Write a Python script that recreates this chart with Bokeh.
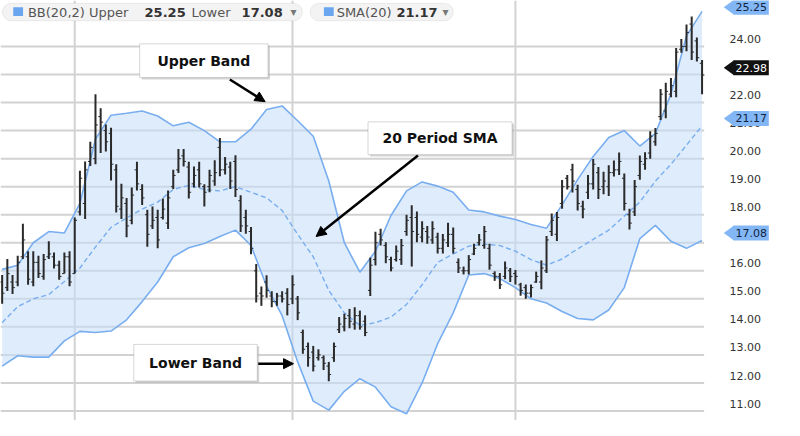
from bokeh.plotting import figure
from bokeh.models import (Range1d, Label, BoxAnnotation, Arrow, NormalHead)
from bokeh.core.properties import value
from bokeh.embed import file_html
from bokeh.resources import INLINE

# ---------------- data ----------------
bar_high = [15.85,16.42,15.85,16.54,17.68,16.70,16.70,16.54,16.60,17.05,
            16.65,16.36,16.65,16.70,17.90,19.57,19.90,20.60,22.30,21.80,
            21.22,21.10,19.80,19.10,18.60,18.97,19.89,19.09,18.18,18.29,
            18.18,18.58,18.86,19.60,20.34,20.34,19.89,19.72,19.89,19.09,
            19.60,19.94,20.74,20.06,19.89,20.12,18.69,18.18,17.56,16.24,
            15.44,15.84,15.27,15.21,15.27,15.38,15.84,15.10,13.90,13.44,
            13.32,13.20,12.98,12.75,13.44,14.35,14.47,14.64,14.70,14.58,
            14.41,16.47,17.39,17.50,17.02,16.50,16.90,17.13,18.00,18.34,
            18.11,17.77,17.60,17.77,17.36,17.31,17.71,17.54,16.44,16.15,
            16.56,16.96,17.31,17.60,16.96,15.98,15.92,16.33,16.10,16.03,
            15.57,15.51,15.51,15.97,16.37,17.24,18.04,18.10,19.24,19.42,
            19.82,19.07,18.50,19.42,19.99,19.70,19.53,19.76,19.93,20.22,
            19.47,18.21,19.24,20.11,20.23,20.98,21.09,22.48,22.71,22.88,
            23.95,24.27,24.78,25.07,24.32,23.52]
bar_low = [14.82,15.28,15.17,15.45,16.42,15.50,15.45,15.74,15.68,16.42,
           16.08,15.68,15.90,15.45,15.90,17.97,17.85,19.74,19.80,20.20,
           20.25,19.22,18.08,17.85,17.20,17.66,18.86,18.35,16.86,17.49,
           16.80,17.83,17.49,18.92,19.49,19.72,18.58,18.97,18.97,18.29,
           18.80,19.03,19.37,19.43,18.92,18.63,17.38,17.32,16.59,14.87,
           14.75,15.04,14.70,14.75,14.87,14.41,14.81,14.24,13.04,12.58,
           12.41,12.80,12.46,12.06,12.75,13.78,13.84,13.95,13.90,13.90,
           13.67,15.10,16.19,16.90,16.27,15.98,16.33,16.21,17.25,16.15,
           17.02,17.02,16.96,16.96,16.62,16.62,16.85,16.62,15.92,15.87,
           15.87,16.56,16.90,16.79,16.04,15.64,15.35,15.70,15.60,15.51,
           15.11,15.00,15.05,15.57,15.34,15.92,17.24,17.06,18.21,18.90,
           18.79,18.15,17.87,18.56,18.90,18.56,18.73,18.67,19.36,19.42,
           18.15,17.47,17.95,19.25,19.60,20.00,20.46,21.38,21.44,22.19,
           22.19,23.78,23.83,23.52,23.46,22.30]
bar_open = [15.6,15.4,15.6,15.6,16.5,16.5,15.6,16.3,15.8,16.5,
            16.5,16.2,15.9,16.5,15.9,18.1,18.4,19.9,20.0,21.5,
            21.0,20.9,19.6,18.2,18.4,17.8,19.6,18.9,18.0,17.6,
            17.9,17.9,17.7,19.0,19.6,20.1,19.7,19.1,19.6,19.0,
            19.0,19.2,20.4,19.6,19.7,19.9,18.5,17.9,17.4,16.0,
            15.2,15.6,15.1,14.9,15.1,15.2,15.0,15.0,13.8,13.3,
            13.1,12.9,12.9,12.6,12.9,13.9,14.0,14.4,14.1,14.4,
            14.2,15.3,16.4,17.3,16.9,16.4,16.4,16.4,17.4,17.9,
            17.9,17.2,17.4,17.1,17.2,16.8,17.0,17.3,16.3,16.0,
            16.0,16.6,17.0,16.9,16.8,15.9,15.8,15.8,16.0,15.9,
            15.5,15.4,15.2,15.6,15.6,16.0,17.4,17.3,18.4,19.3,
            19.6,18.9,18.3,18.8,19.1,19.5,19.0,19.0,19.5,19.6,
            19.3,18.0,18.1,19.4,19.8,20.2,20.6,21.5,21.7,22.3,
            22.4,23.9,24.0,24.8,24.2,23.4]
bar_close = [15.2,15.9,15.4,16.3,17.1,15.7,16.3,15.9,16.4,16.6,
             16.2,15.8,16.5,15.6,17.8,19.3,19.6,20.4,21.2,21.3,
             20.6,19.8,18.3,18.6,17.6,18.7,19.1,18.6,17.3,17.8,
             17.1,18.2,18.6,19.4,20.0,19.9,18.8,19.4,19.1,18.8,
             19.4,19.5,19.6,19.8,19.2,18.9,17.6,17.6,16.8,15.1,
             15.1,15.3,14.9,15.1,15.0,14.8,15.5,14.5,13.2,12.9,
             12.6,13.0,12.7,12.3,13.3,14.1,14.3,14.2,14.4,14.0,
             13.8,16.2,17.0,17.1,16.5,16.1,16.7,16.9,17.8,17.4,
             17.3,17.5,17.2,17.5,16.8,17.1,17.3,16.8,16.1,16.0,
             16.4,16.8,17.1,17.4,16.2,15.8,15.5,16.1,15.8,15.8,
             15.3,15.2,15.4,15.8,16.1,17.1,17.8,17.9,19.0,19.0,
             19.2,18.4,18.2,19.1,19.8,18.9,19.2,19.5,19.6,19.9,
             18.4,17.7,19.0,19.9,20.0,20.8,20.9,22.3,22.4,22.6,
             23.8,24.0,24.5,23.8,23.6,22.98]

band_idx = [0, 3, 6, 9, 12, 15, 18, 21, 24, 27, 30, 33, 36, 39, 42, 45,
            48, 51, 54, 57, 60, 63, 66, 69, 72, 75, 78, 81, 84, 87, 90, 93,
            96, 99, 102, 105, 108, 111, 114, 117, 120, 123, 126, 129, 132, 135]
band_upper = [16.05,16.2,17.0,17.4,17.35,18.4,20.7,21.55,21.62,21.7,
              21.52,21.17,21.3,21.0,20.6,20.6,21.05,21.75,21.88,21.35,
              20.8,19.2,17.0,15.95,16.7,17.97,18.85,19.17,19.02,18.8,
              18.17,18.1,17.95,17.83,17.65,17.52,18.35,19.25,20.08,20.75,
              21.0,20.45,20.9,22.3,24.38,25.25]
band_mid = [14.15,14.72,15.0,15.15,15.62,16.1,16.85,17.55,17.88,18.2,
            18.45,18.9,19.05,18.9,18.85,19.0,18.8,18.6,18.15,17.3,
            16.5,15.3,14.5,14.05,14.15,14.35,14.8,15.5,16.3,16.6,
            16.88,16.95,16.9,16.7,16.4,16.2,16.42,16.78,17.12,17.45,
            17.95,18.45,19.2,19.8,20.48,21.17]
band_lower = [12.6,12.97,12.92,12.92,13.5,13.84,13.8,13.85,14.25,14.9,
              15.6,16.5,16.82,16.97,17.22,17.45,16.9,15.45,14.4,12.75,
              11.35,11.03,11.7,12.15,11.85,11.15,10.9,12.0,13.4,14.5,
              15.85,15.9,15.72,15.4,15.0,14.85,14.55,14.3,14.25,14.6,
              15.4,17.15,17.62,17.05,16.8,17.08]

grid_levels = [11, 12, 13, 14, 15, 16, 17, 18, 19, 20, 21, 22, 23, 24]
label_levels = [11, 12, 13, 14, 15, 16, 18, 19, 20, 21, 22, 24]
vgrid_idx = [14, 56, 99]

tag_values = [25.25, 22.98, 21.17, 17.08]
tag_texts = ["25.25", "22.98", "21.17", "17.08"]
tag_fill = ["#82b6f4", "#111111", "#82b6f4", "#82b6f4"]
tag_ink = ["#10233f", "#ffffff", "#10233f", "#10233f"]

bb_upper_last = "25.25"
bb_lower_last = "17.08"
sma_last = "21.17"

# ---------------- layout helpers (reference px -> data) ----------------
XS, XE = -0.32, 135.4          # index range over the 718 px price area
YB, YT = 10.66, 25.64
REF_W, REF_H = 718.0, 436.0
LBL_OFF = 0.265                # axis labels sit a little above their grid line


def dx(X):
    return XS + X / REF_W * (XE - XS)


def dy(Y):
    return YT - Y / REF_H * (YT - YB)


FONT = "DejaVu Sans"
p = figure(width=784, height=420, x_range=Range1d(XS, dx(800)), y_range=Range1d(YB, YT),
           output_backend="svg", toolbar_location=None,
           x_axis_location=None, y_axis_location=None,
           min_border_left=0, min_border_right=0, min_border_top=0, min_border_bottom=0)
p.outline_line_color = None
p.background_fill_color = "white"
p.grid.visible = False

# grid lines (stop at the right edge of the price area)
p.segment(x0=[XS] * len(grid_levels), x1=[XE] * len(grid_levels),
          y0=grid_levels, y1=grid_levels, line_color="#d2d2d2", line_width=2)
p.segment(x0=vgrid_idx, x1=vgrid_idx, y0=[YB] * len(vgrid_idx), y1=[YT] * len(vgrid_idx),
          line_color="#d2d2d2", line_width=2)

# price scale labels on the right
p.text(x=[dx(744)] * len(label_levels), y=[v + LBL_OFF for v in label_levels],
       text=["%.2f" % v for v in label_levels], text_font=value(FONT),
       text_font_size="11px", text_color="#333333", text_baseline="middle")

# ---------------- bands ----------------
band_col = "#78aef0"
p.varea(x=band_idx, y1=band_lower, y2=band_upper, fill_color="#c5dcf8", fill_alpha=0.55)
p.line(x=band_idx, y=band_upper, line_color=band_col, line_width=1.6)
p.line(x=band_idx, y=band_lower, line_color=band_col, line_width=1.6)
p.line(x=band_idx, y=band_mid, line_color=band_col, line_width=1.4, line_dash="5 3")

# ---------------- OHLC bars ----------------
idx = list(range(len(bar_high)))
p.segment(x0=idx, y0=bar_low, x1=idx, y1=bar_high, line_color="#2a2a2a", line_width=2)
p.segment(x0=[i - 0.45 for i in idx], y0=bar_open, x1=idx, y1=bar_open,
          line_color="#2a2a2a", line_width=1)
p.segment(x0=idx, y0=bar_close, x1=[i + 0.45 for i in idx], y1=bar_close,
          line_color="#2a2a2a", line_width=1)

# ---------------- price tags on the scale ----------------
half = 7.8 * (YT - YB) / REF_H
ytag = [min(v + LBL_OFF, dy(7)) for v in tag_values]
p.quad(left=[dx(748)] * 4, right=[dx(784)] * 4,
       top=[y + half for y in ytag], bottom=[y - half for y in ytag],
       fill_color=tag_fill, line_color=None)
p.patches(xs=[[dx(738), dx(748.5), dx(748.5)] for _ in ytag],
          ys=[[y, y + half, y - half] for y in ytag],
          fill_color=tag_fill, line_color=None)
p.text(x=[dx(766)] * 4, y=ytag, text=tag_texts, text_font=value(FONT),
       text_font_size="11px", text_color=tag_ink, text_align="center",
       text_baseline="middle")

# ---------------- legend pills ----------------
for l, r in ((2, 308), (316, 462)):
    p.add_layout(BoxAnnotation(left=dx(l), right=dx(r), top=dy(3), bottom=dy(21),
                               fill_color="#f3f3f3", fill_alpha=1, line_color="#c2c2c2",
                               line_width=1, border_radius=9))
for x0 in (13, 330):
    p.add_layout(BoxAnnotation(left=dx(x0), right=dx(x0 + 10), top=dy(7), bottom=dy(16),
                               fill_color="#6aa6f0", fill_alpha=1, line_color=None))


def txt(X, s, bold=False, color="#555555", size="13px"):
    p.add_layout(Label(x=dx(X), y=dy(12), text=s, text_font=FONT, text_font_size=size,
                       text_color=color, text_baseline="middle",
                       text_font_style="bold" if bold else "normal"))


txt(28, "BB(20,2) Upper")
txt(147, bb_upper_last, bold=True, color="#333333")
txt(195, "Lower")
txt(246, bb_lower_last, bold=True, color="#333333")
txt(296, "\u25be", color="#777777", size="12px")
txt(343, "SMA(20)")
txt(404, sma_last, bold=True, color="#333333")
txt(451, "\u25be", color="#777777", size="12px")

# ---------------- callout boxes + arrows ----------------
def callout(l, r, t, b, s):
    p.add_layout(BoxAnnotation(left=dx(l + 2), right=dx(r + 2), top=dy(t + 2), bottom=dy(b + 2),
                               fill_color="#bbbbbb", fill_alpha=0.6, line_color=None))
    p.add_layout(BoxAnnotation(left=dx(l), right=dx(r), top=dy(t), bottom=dy(b),
                               fill_color="white", fill_alpha=1, line_color="#7a7a7a",
                               line_width=1))
    p.add_layout(Label(x=dx((l + r) / 2), y=dy((t + b) / 2), text=s, text_font=FONT,
                       text_font_size="14px", text_font_style="bold", text_color="#111111",
                       text_align="center", text_baseline="middle"))


def arrow(x0, y0, x1, y1):
    p.add_layout(Arrow(end=NormalHead(size=10, fill_color="black", line_color="black"),
                       x_start=dx(x0), y_start=dy(y0), x_end=dx(x1), y_end=dy(y1),
                       line_color="black", line_width=2.5))


callout(142, 273, 45, 80, "Upper Band")
callout(375, 522, 126, 160, "20 Period SMA")
callout(136, 262, 357, 395, "Lower Band")
arrow(234, 82, 270, 105)
arrow(426, 161, 322, 245)
arrow(263, 377, 299, 377)

open("out.html", "w").write(file_html(p, INLINE))
